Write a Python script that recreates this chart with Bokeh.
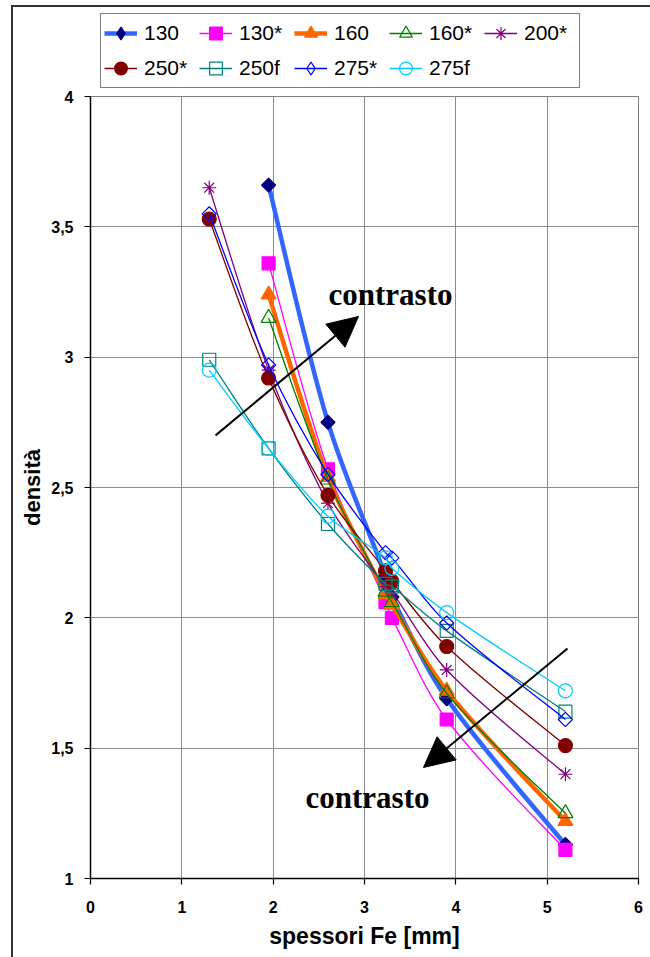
import numpy as np
from bokeh.plotting import figure
from bokeh.layouts import column
from bokeh.models import (Range1d, FixedTicker, Legend, LegendItem, Arrow,
                          NormalHead, Label)
from bokeh.embed import file_html
from bokeh.resources import INLINE

NaN = float("nan")

# ---------------- data ----------------
x_values = [1.3, 1.95, 2.6, 3.23, 3.3, 3.9, 5.2]

series_names = ["130", "130*", "160", "160*", "200*", "250*", "250f", "275*", "275f"]
s130 = [NaN, 3.66, 2.75, 2.16, 2.08, 1.69, 1.13]
s130s = [NaN, 3.36, 2.57, 2.06, 2.00, 1.61, 1.11]
s160 = [NaN, 3.24, 2.54, 2.09, 2.05, 1.72, 1.22]
s160s = [NaN, 3.15, 2.53, 2.10, 2.06, 1.71, 1.25]
s200s = [3.65, 2.95, 2.44, 2.12, 2.10, 1.80, 1.40]
s250s = [3.53, 2.92, 2.47, 2.18, 2.14, 1.89, 1.51]
s250f = [2.99, 2.65, 2.36, 2.13, 2.12, 1.95, 1.64]
s275s = [3.55, 2.97, 2.55, 2.25, 2.23, 1.98, 1.61]
s275f = [2.95, 2.65, 2.39, 2.23, 2.19, 2.02, 1.72]
series_values = [s130, s130s, s160, s160s, s200s, s250s, s250f, s275s, s275f]

x_ticks = [0, 1, 2, 3, 4, 5, 6]
x_tick_labels = ["0", "1", "2", "3", "4", "5", "6"]
y_ticks = [1, 1.5, 2, 2.5, 3, 3.5, 4]
y_tick_labels = ["1", "1,5", "2", "2,5", "3", "3,5", "4"]

x_title = "spessori Fe [mm]"
y_title = "densità"
note_text = "contrasto"

# ---------------- styles ----------------
line_colors = ["#3366FF", "#FF00FF", "#FF6600", "#008000", "#800080",
               "#800000", "#008080", "#0000FF", "#00CCFF"]
line_widths = [4.5, 1.3, 4.5, 1.3, 1.3, 1.3, 1.3, 1.3, 1.3]
marker_types = ["square", "square", "triangle", "triangle", "asterisk",
                "circle", "square", "square", "circle"]
legend_marker_types = ["diamond", "square", "triangle", "triangle", "asterisk",
                       "circle", "square", "diamond", "circle"]
marker_angles = [np.pi / 4, 0, 0, 0, 0, 0, 0, np.pi / 4, 0]
marker_sizes = [10, 13, 15, 15, 14, 14, 13, 10, 14]
marker_line = ["#000080", "#FF00FF", "#FF6600", "#008000", "#800080",
               "#800000", "#008080", "#0000FF", "#00CCFF"]
marker_fill = ["#000080", "#FF00FF", "#FF6600", None, None,
               "#800000", None, None, None]

W, H = 650, 957
LEG_H = 88                      # strip holding the legend
LEFT, RIGHT, TOP, BOTTOM = 90, 12, 8, 79
PH = H - LEG_H
XR, YR = (0, 6), (1, 4)
kx = (W - LEFT - RIGHT) / (XR[1] - XR[0])
ky = (PH - TOP - BOTTOM) / (YR[1] - YR[0])

BORDER = "#333333"

# ---------------- main chart ----------------
p = figure(width=W, height=PH, x_range=Range1d(*XR), y_range=Range1d(*YR),
           output_backend="svg", toolbar_location=None,
           min_border_left=LEFT, min_border_right=RIGHT,
           min_border_top=TOP, min_border_bottom=BOTTOM,
           background_fill_color="white", border_fill_color=None)
p.styles = {
    "background-color": "white",
    "background-image": f"linear-gradient({BORDER}, {BORDER})",
    "background-position": "11px 0px",
    "background-size": "2px 100%",
    "background-repeat": "no-repeat",
}
p.outline_line_color = "#808080"
p.outline_line_width = 1

for ax, ticks, labels in ((p.xaxis, x_ticks, x_tick_labels), (p.yaxis, y_ticks, y_tick_labels)):
    ax.ticker = FixedTicker(ticks=ticks)
    ax.major_label_overrides = {t: l for t, l in zip(ticks, labels)}
    ax.axis_line_color = "black"
    ax.axis_line_width = 1.5
    ax.major_tick_line_color = "black"
    ax.major_tick_line_width = 1.2
    ax.major_tick_out = 6
    ax.major_tick_in = 0
    ax.minor_tick_line_color = None
    ax.major_label_text_font = "Liberation Sans"
    ax.major_label_text_font_style = "bold"
    ax.major_label_text_font_size = "16px"
    ax.major_label_text_color = "black"
    ax.axis_label_text_font = "Liberation Sans"
    ax.axis_label_text_font_style = "bold"
    ax.axis_label_text_color = "black"

p.xaxis.axis_label = x_title
p.yaxis.axis_label = y_title
p.xaxis.axis_label_text_font_size = "23px"
p.yaxis.axis_label_text_font_size = "22px"
p.xaxis.major_label_standoff = 16
p.yaxis.major_label_standoff = 11
p.xaxis.axis_label_standoff = 7
p.yaxis.axis_label_standoff = 3

p.xgrid.ticker = FixedTicker(ticks=x_ticks)
p.ygrid.ticker = FixedTicker(ticks=y_ticks)
for g in (p.xgrid, p.ygrid):
    g.grid_line_color = "#8c8c8c"
    g.grid_line_width = 1


def bezier_segments(xs, ys):
    pts = np.array([[x * kx, y * ky] for x, y in zip(xs, ys) if np.isfinite(y)])
    n = len(pts)
    d = np.linalg.norm(np.diff(pts, axis=0), axis=1)
    t = np.concatenate([[0.0], np.cumsum(d)])
    tang = np.zeros_like(pts)
    for i in range(n):
        if i == 0:
            tang[i] = (pts[1] - pts[0]) / (t[1] - t[0]) * 0.5
        elif i == n - 1:
            tang[i] = (pts[-1] - pts[-2]) / (t[-1] - t[-2]) * 0.5
        else:
            tang[i] = (pts[i + 1] - pts[i - 1]) / (t[i + 1] - t[i - 1])
    c1 = pts[:-1] + tang[:-1] * d[:, None] / 3
    c2 = pts[1:] - tang[1:] * d[:, None] / 3
    return dict(x0=pts[:-1, 0] / kx, y0=pts[:-1, 1] / ky,
                x1=pts[1:, 0] / kx, y1=pts[1:, 1] / ky,
                cx0=c1[:, 0] / kx, cy0=c1[:, 1] / ky,
                cx1=c2[:, 0] / kx, cy1=c2[:, 1] / ky)


def draw_series(fig, i, vals, markers, angles):
    seg = bezier_segments(x_values, vals)
    br = fig.bezier(line_color=line_colors[i], line_width=line_widths[i], **seg)
    xs = [x for x, v in zip(x_values, vals) if np.isfinite(v)]
    ys = [v for v in vals if np.isfinite(v)]
    fill = marker_fill[i]
    sr = fig.scatter(xs, ys, marker=markers[i], size=marker_sizes[i],
                     angle=angles[i],
                     line_color=marker_line[i], line_width=1.2,
                     fill_color=fill if fill else "white",
                     fill_alpha=1.0 if fill else 0.0)
    return br, sr


for i, vals in enumerate(series_values):
    draw_series(p, i, vals, marker_types, marker_angles)

# ---------------- annotations ----------------
arrow_up = (1.369, 2.70, 2.934, 3.156)
arrow_down = (5.223, 1.882, 3.646, 1.426)
for (xa, ya, xb, yb) in (arrow_up, arrow_down):
    p.add_layout(Arrow(x_start=xa, y_start=ya, x_end=xb, y_end=yb,
                       line_color="black", line_width=2,
                       end=NormalHead(size=30, fill_color="black", line_color="black")))

note_up = (2.606, 3.24)
note_down = (2.354, 1.311)
for (xn, yn) in (note_up, note_down):
    p.add_layout(Label(x=xn, y=yn, text=note_text, text_font="Liberation Serif",
                       text_font_style="bold", text_font_size="31px",
                       text_color="black", text_baseline="alphabetic",
                       text_align="left"))

# ---------------- legend strip (same series, view placed off the data) ----------------
lg = figure(width=W, height=LEG_H, x_range=Range1d(*XR), y_range=Range1d(10, 11),
            output_backend="svg", toolbar_location=None,
            x_axis_type=None, y_axis_type=None,
            min_border_left=0, min_border_right=0, min_border_top=0, min_border_bottom=0,
            background_fill_color=None, border_fill_color=None)
lg.outline_line_color = None
lg.styles = {
    "background-color": "white",
    "background-image": f"linear-gradient({BORDER}, {BORDER}), linear-gradient({BORDER}, {BORDER})",
    "background-position": "11px 5px, 11px 5px",
    "background-size": "2px 100%, 100% 2px",
    "background-repeat": "no-repeat",
}

items = []
for i, (name, vals) in enumerate(zip(series_names, series_values)):
    br, sr = draw_series(lg, i, vals, legend_marker_types, [0] * len(series_names))
    items.append(LegendItem(label=name, renderers=[br, sr]))

legend = Legend(items=items, orientation="horizontal", ncols=5,
                location=(10, 0),
                label_text_font="Liberation Sans", label_text_font_size="21px",
                label_text_color="black",
                glyph_width=33, glyph_height=32, label_standoff=7,
                label_width=52, spacing=3, padding=3, margin=0,
                border_line_color="black", border_line_width=1,
                background_fill_color="white", background_fill_alpha=1)
lg.add_layout(legend, "center")

layout = column(lg, p, spacing=0)
open("out.html", "w").write(file_html(layout, INLINE))
